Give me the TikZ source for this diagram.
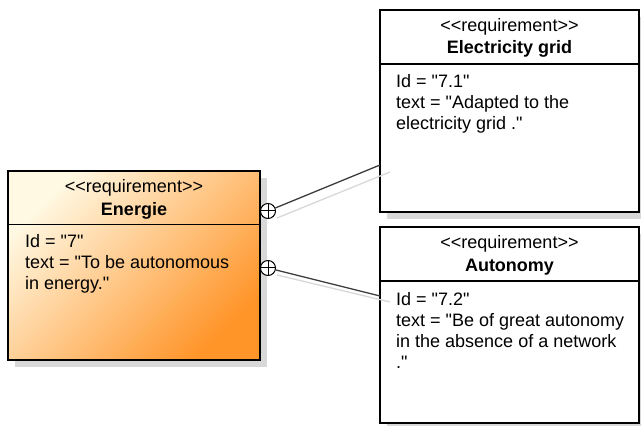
\documentclass[tikz,border=0pt]{standalone}
\usepackage{fontspec}
\newfontfamily\umlfont{Liberation Sans}
\usetikzlibrary{shadows}
\definecolor{reqlight}{RGB}{255,249,228}
\definecolor{reqorange}{RGB}{255,148,40}
\definecolor{shadowgray}{RGB}{216,216,216}
\definecolor{wiregray}{RGB}{60,60,60}
% diagonal fill of the parent block (used on a square, at 45 degrees)
\pgfdeclareverticalshading{reqshade}{100bp}{color(0bp)=(reqorange); color(28bp)=(reqorange);
  color(72bp)=(reqlight); color(100bp)=(reqlight)}
\tikzset{
  req/.style={
    draw=black,
    line width=2pt,
    rectangle,
    inner sep=0pt,
    drop shadow={shadow xshift=7pt, shadow yshift=-7pt, fill=shadowgray, opacity=1}
  },
  reqfill/.style={
    path picture={
      \shade[shading=reqshade, shading angle=45]
        ([shift={(-126pt,-126pt)}]path picture bounding box.center) rectangle
        ([shift={(126pt,126pt)}]path picture bounding box.center);
    }
  },
  stereo/.style={anchor=base, inner sep=0pt, font=\umlfont\fontsize{18}{21}\selectfont},
  reqname/.style={anchor=base, inner sep=0pt, font=\umlfont\bfseries\fontsize{18}{21}\selectfont},
  % base anchor of these sits on the last line
  attr/.style={anchor=base west, inner sep=0pt, align=left, font=\umlfont\fontsize{18}{21}\selectfont},
  divider/.style={line width=1.2pt},
  oplus/.style={
    circle, draw, fill=white, line width=1pt,
    minimum size=15pt, inner sep=0pt,
    path picture={
      \draw[line width=1pt] (path picture bounding box.north) -- (path picture bounding box.south)
        (path picture bounding box.west) -- (path picture bounding box.east);
    }
  },
  wire/.style={draw=wiregray, line width=1.3pt},
  wireshadow/.style={draw=shadowgray, line width=1.3pt}
}

\begin{document}
\begin{tikzpicture}[x=1pt, y=1pt]
  \useasboundingbox[fill=white] (0,0) rectangle (641,426);

  % requirement blocks
  \node[req, reqfill, minimum width=252pt, minimum height=189pt] (energie) at (134,160.5) {};
  \node[req, fill=white, minimum width=259pt, minimum height=202pt] (grid) at (509.5,315) {};
  \node[req, fill=white, minimum width=259pt, minimum height=196pt] (autonomy) at (509.5,101) {};

  % Energie
  \node[stereo] (energie-st) at ([yshift=-22.5pt]energie.north) {<<requirement>>};
  \node[reqname] (energie-nm) at ([yshift=-45.5pt]energie.north) {Energie};
  \draw[divider] ([yshift=-54.5pt]energie.north west) -- ([yshift=-54.5pt]energie.north east);
  \node[attr] (energie-at) at ([xshift=18pt,yshift=-120pt]energie.north west)
    {Id = "7"\\text = "To be autonomous\\in energy."};

  % Electricity grid
  \node[stereo] (grid-st) at ([yshift=-23pt]grid.north) {<<requirement>>};
  \node[reqname] (grid-nm) at ([yshift=-45pt]grid.north) {Electricity grid};
  \draw[divider] ([yshift=-55pt]grid.north west) -- ([yshift=-55pt]grid.north east);
  \node[attr] (grid-at) at ([xshift=17pt,yshift=-121pt]grid.north west)
    {Id = "7.1"\\text = "Adapted to the\\electricity grid ."};

  % Autonomy
  \node[stereo] (autonomy-st) at ([yshift=-23pt]autonomy.north) {<<requirement>>};
  \node[reqname] (autonomy-nm) at ([yshift=-46pt]autonomy.north) {Autonomy};
  \draw[divider] ([yshift=-55pt]autonomy.north west) -- ([yshift=-55pt]autonomy.north east);
  \node[attr] (autonomy-at) at ([xshift=17pt,yshift=-143pt]autonomy.north west)
    {Id = "7.2"\\text = "Be of great autonomy\\in the absence of a network\\."};

  % containment links
  \coordinate (grid-in) at (380,261);
  \coordinate (autonomy-in) at (380,130);
  \coordinate (p1-sh) at (277,208);
  \coordinate (grid-sh) at (390,254);
  \coordinate (p2-sh) at (277,151);
  \coordinate (autonomy-sh) at (390,124);
  \draw[wireshadow] (p1-sh) -- (grid-sh);
  \draw[wireshadow] (p2-sh) -- (autonomy-sh);

  \node[oplus] (p1) at (268,215) {};
  \node[oplus] (p2) at (268,158) {};
  \draw[wire] (p1) -- (grid-in);
  \draw[wire] (p2) -- (autonomy-in);
\end{tikzpicture}
\end{document}
